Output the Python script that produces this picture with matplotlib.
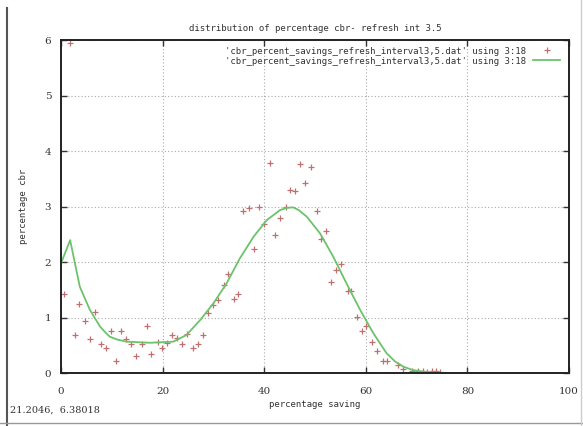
import matplotlib
matplotlib.use("Agg")
import matplotlib.pyplot as plt
from matplotlib.lines import Line2D

# scatter data
pts_x = [0.5, 1.8, 2.8, 3.6, 4.7, 5.8, 6.7, 7.8, 8.8, 9.8, 10.8, 11.9, 12.7, 13.8,
         14.8, 15.9, 16.9, 17.8, 19.0, 19.8, 20.9, 21.9, 22.9, 23.9, 24.9, 25.9,
         26.9, 27.9, 28.9, 30.0, 31.0, 32.0, 32.9, 34.0, 34.9, 35.9, 37.1, 38.0,
         39.0, 40.0, 41.1, 42.1, 43.1, 44.2, 45.1, 46.1, 47.0, 48.1, 49.2, 50.3,
         51.1, 52.2, 53.1, 54.2, 55.2, 56.4, 57.0, 58.2, 59.2, 60.1, 61.2, 62.3,
         63.3, 64.1, 66.4, 67.4, 69.0, 70.3, 71.3, 72.1, 73.1, 73.9, 74.6]
pts_y = [1.42, 5.96, 0.69, 1.24, 0.95, 0.62, 1.10, 0.52, 0.45, 0.77, 0.23, 0.77,
         0.62, 0.53, 0.31, 0.52, 0.85, 0.34, 0.57, 0.46, 0.54, 0.69, 0.63, 0.52,
         0.70, 0.45, 0.53, 0.69, 1.08, 1.23, 1.32, 1.59, 1.79, 1.34, 1.42, 2.92,
         2.97, 2.24, 2.99, 2.69, 3.79, 2.50, 2.79, 3.00, 3.31, 3.29, 3.78, 3.42,
         3.72, 2.92, 2.42, 2.57, 1.65, 1.86, 1.97, 1.49, 1.49, 1.02, 0.77, 0.86,
         0.57, 0.41, 0.23, 0.23, 0.15, 0.07, 0.05, 0.04, 0.04, 0.03, 0.04, 0.04, 0.03]

# smoothed curve
fit_x = [0, 1.8, 3.7, 5.7, 7.7, 8.7, 9.6, 11.0, 12.9, 17.5, 22.1, 24.7, 27.4, 30.0,
         32.6, 35.2, 37.9, 40.5, 43.1, 44.4, 45.7, 46.8, 48.4, 51.0, 53.6, 56.2,
         58.9, 61.5, 64.1, 65.8, 67.4, 69.2, 71.3, 74.0, 77.0]
fit_y = [1.98, 2.40, 1.56, 1.14, 0.84, 0.74, 0.66, 0.61, 0.57, 0.55, 0.57, 0.69,
         0.96, 1.26, 1.62, 2.07, 2.46, 2.76, 2.94, 2.98, 2.99, 2.94, 2.82, 2.52,
         2.10, 1.62, 1.14, 0.72, 0.36, 0.21, 0.12, 0.06, 0.03, 0.01, 0.0]

title = "distribution of percentage cbr- refresh int 3.5"
lbl = "'cbr_percent_savings_refresh_interval3,5.dat' using 3:18"

mono = "DejaVu Sans Mono"
fig = plt.figure(figsize=(5.83, 4.26), dpi=100)
ax = fig.add_axes([61/583, 1-373.3/426, 508/583, 333/426])

ax.plot(pts_x, pts_y, ls="none", marker="+", ms=4, mew=0.9, color="#c07070", label=lbl)
ax.plot(fit_x, fit_y, color="#6cc36c", lw=1.3, label=lbl)

ax.set_xlim(0, 100)
ax.set_ylim(0, 6)
ax.set_xticks(range(0, 101, 20))
ax.set_yticks(range(0, 7))
ax.grid(True, color="#aaaaaa", ls=(0, (1, 2)), lw=0.8)
ax.tick_params(direction="in", length=4, width=1, top=True, right=True,
               labelsize=7.5, colors="#333333")
ax.tick_params(axis="x", pad=10)
ax.tick_params(axis="y", pad=7)
for t in ax.get_xticklabels() + ax.get_yticklabels():
    t.set_family("DejaVu Serif")
for s in ax.spines.values():
    s.set_linewidth(1.4)
    s.set_color("#222222")

ax.set_title(title, fontsize=6.5, family=mono, color="#333333", pad=7)
ax.set_xlabel("percentage saving", fontsize=6.5, family=mono, color="#333333", labelpad=3)
ax.set_ylabel("percentage cbr", fontsize=6.5, family=mono, color="#333333", labelpad=12)

leg = ax.legend(loc="upper right", frameon=False, markerfirst=False,
                prop={"family": mono, "size": 6.5}, handlelength=3,
                borderaxespad=0.3, labelspacing=0.1, bbox_to_anchor=(0.995, 1.0))
for t in leg.get_texts():
    t.set_color("#333333")

# window decorations
fig.add_artist(Line2D([7/583, 7/583], [0, 1-8/426], color="#555555", lw=1.5))
fig.add_artist(Line2D([0, 1], [3/426, 3/426], color="#999999", lw=1.0))
fig.add_artist(Line2D([581/583, 581/583], [0, 1], color="#cccccc", lw=1.0))
fig.text(10/583, 1-410/426, "21.2046,  6.38018", fontsize=7, family="DejaVu Serif",
         color="#333333", va="center")

fig.savefig("out.png", dpi=100)
